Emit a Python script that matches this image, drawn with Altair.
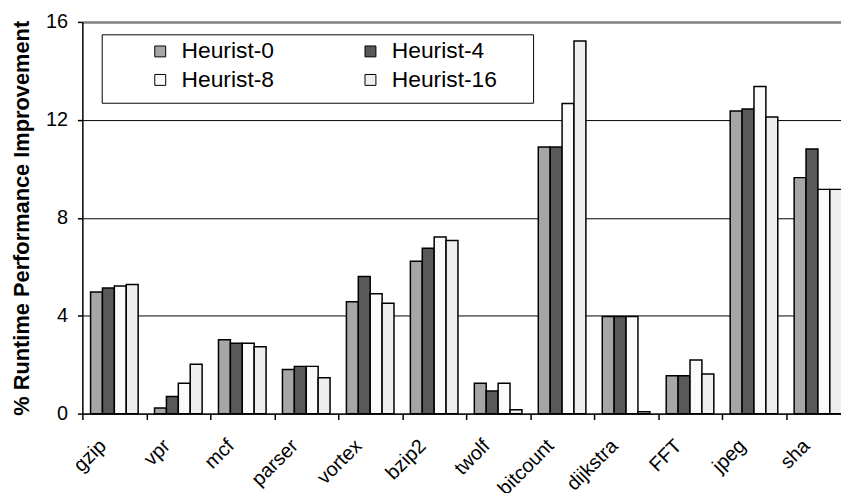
import pandas as pd
import altair as alt

OUTPUT_FILE = "out.html"

BENCHMARKS = ["gzip", "vpr", "mcf", "parser", "vortex", "bzip2",
              "twolf", "bitcount", "dijkstra", "FFT", "jpeg", "sha"]
SERIES = ["Heurist-0", "Heurist-4", "Heurist-8", "Heurist-16"]
COLORS = ["#A6A6A6", "#595959", "#FAFAFA", "#EEEEEE"]
# legend fills column by column, so list it as 0, 8 | 4, 16 to read 0, 4 / 8, 16
LEGEND_ORDER = ["Heurist-0", "Heurist-8", "Heurist-4", "Heurist-16"]
LEGEND_COLORS = ["#A6A6A6", "#FAFAFA", "#595959", "#EEEEEE"]

HEURIST_0 = [4.97, 0.23, 3.02, 1.80, 4.57, 6.22, 1.24, 10.89, 3.97, 1.55, 12.36, 9.64]
HEURIST_4 = [5.13, 0.70, 2.87, 1.93, 5.60, 6.76, 0.92, 10.89, 3.97, 1.55, 12.44, 10.81]
HEURIST_8 = [5.21, 1.24, 2.87, 1.93, 4.90, 7.21, 1.24, 12.67, 3.97, 2.19, 13.36, 9.16]
HEURIST_16 = [5.27, 2.02, 2.73, 1.47, 4.51, 7.07, 0.16, 15.22, 0.08, 1.62, 12.12, 9.16]

Y_TICKS = [0, 4, 8, 12, 16]

FONT = "Liberation Sans"

rows = []
for name, vals in zip(SERIES, [HEURIST_0, HEURIST_4, HEURIST_8, HEURIST_16]):
    for bench, v in zip(BENCHMARKS, vals):
        rows.append({"bench": bench, "series": name, "value": v})
df = pd.DataFrame(rows)

bars = (
    alt.Chart(df)
    .mark_bar(stroke="black", strokeWidth=1.5)
    .encode(
        x=alt.X(
            "bench:N",
            sort=BENCHMARKS,
            title=None,
            scale=alt.Scale(paddingInner=0, paddingOuter=0, range=[0, 774]),
            axis=alt.Axis(
                tickBand="extent",
                labelAngle=-45,
                labelAlign="right",
                labelBaseline="top",
                labelFontSize=20,
                labelPadding=16,
                labelOffset=-19,
                tickSize=6,
                grid=False,
            ),
        ),
        xOffset=alt.XOffset("series:N", sort=SERIES,
                            scale=alt.Scale(paddingInner=0, paddingOuter=0.6875)),
        y=alt.Y(
            "value:Q",
            title="% Runtime Performance Improvement",
            scale=alt.Scale(domain=[0, 16], nice=False),
            axis=alt.Axis(
                values=Y_TICKS,
                labelFontSize=20,
                labelPadding=10,
                tickSize=5,
                titleFontSize=22,
                titleFontWeight="bold",
                titlePadding=12,
                grid=True,
                gridColor={"condition": {"test": "datum.value === 16", "value": "#808080"},
                           "value": "black"},
                gridWidth={"condition": {"test": "datum.value === 16", "value": 2.5},
                           "value": 1},
            ),
        ),
        color=alt.Color(
            "series:N",
            sort=LEGEND_ORDER,
            scale=alt.Scale(domain=LEGEND_ORDER, range=LEGEND_COLORS),
            legend=alt.Legend(
                title=None,
                orient="none",
                legendX=67,
                legendY=18,
                columns=2,
                columnPadding=85,
                rowPadding=5,
                padding=0,
                symbolType="square",
                symbolSize=121,
                symbolStrokeColor="black",
                symbolStrokeWidth=1,
                labelFontSize=23,
                labelOffset=10,
            ),
        ),
    )
)

legend_box = (
    alt.Chart(pd.DataFrame({"k": [0]}))
    .mark_rect(fill="white", stroke="black", strokeWidth=1)
    .encode(x=alt.value(20), x2=alt.value(455), y=alt.value(13), y2=alt.value(82))
)

chart = (
    alt.layer(legend_box, bars)
    .properties(
        width=765,
        height=395,
        autosize=alt.AutoSizeParams(type="none"),
        padding={"left": 75, "top": 12, "right": 0, "bottom": 78},
        background="white",
    )
    .configure_view(strokeWidth=0)
    .configure_axis(
        labelFont=FONT,
        titleFont=FONT,
        labelColor="black",
        titleColor="black",
        domainColor="black",
        domainWidth=1.5,
        tickColor="black",
        tickWidth=1.5,
    )
    .configure_legend(labelFont=FONT, labelColor="black")
)

chart.save(OUTPUT_FILE, embed_options={"renderer": "svg", "actions": False})
